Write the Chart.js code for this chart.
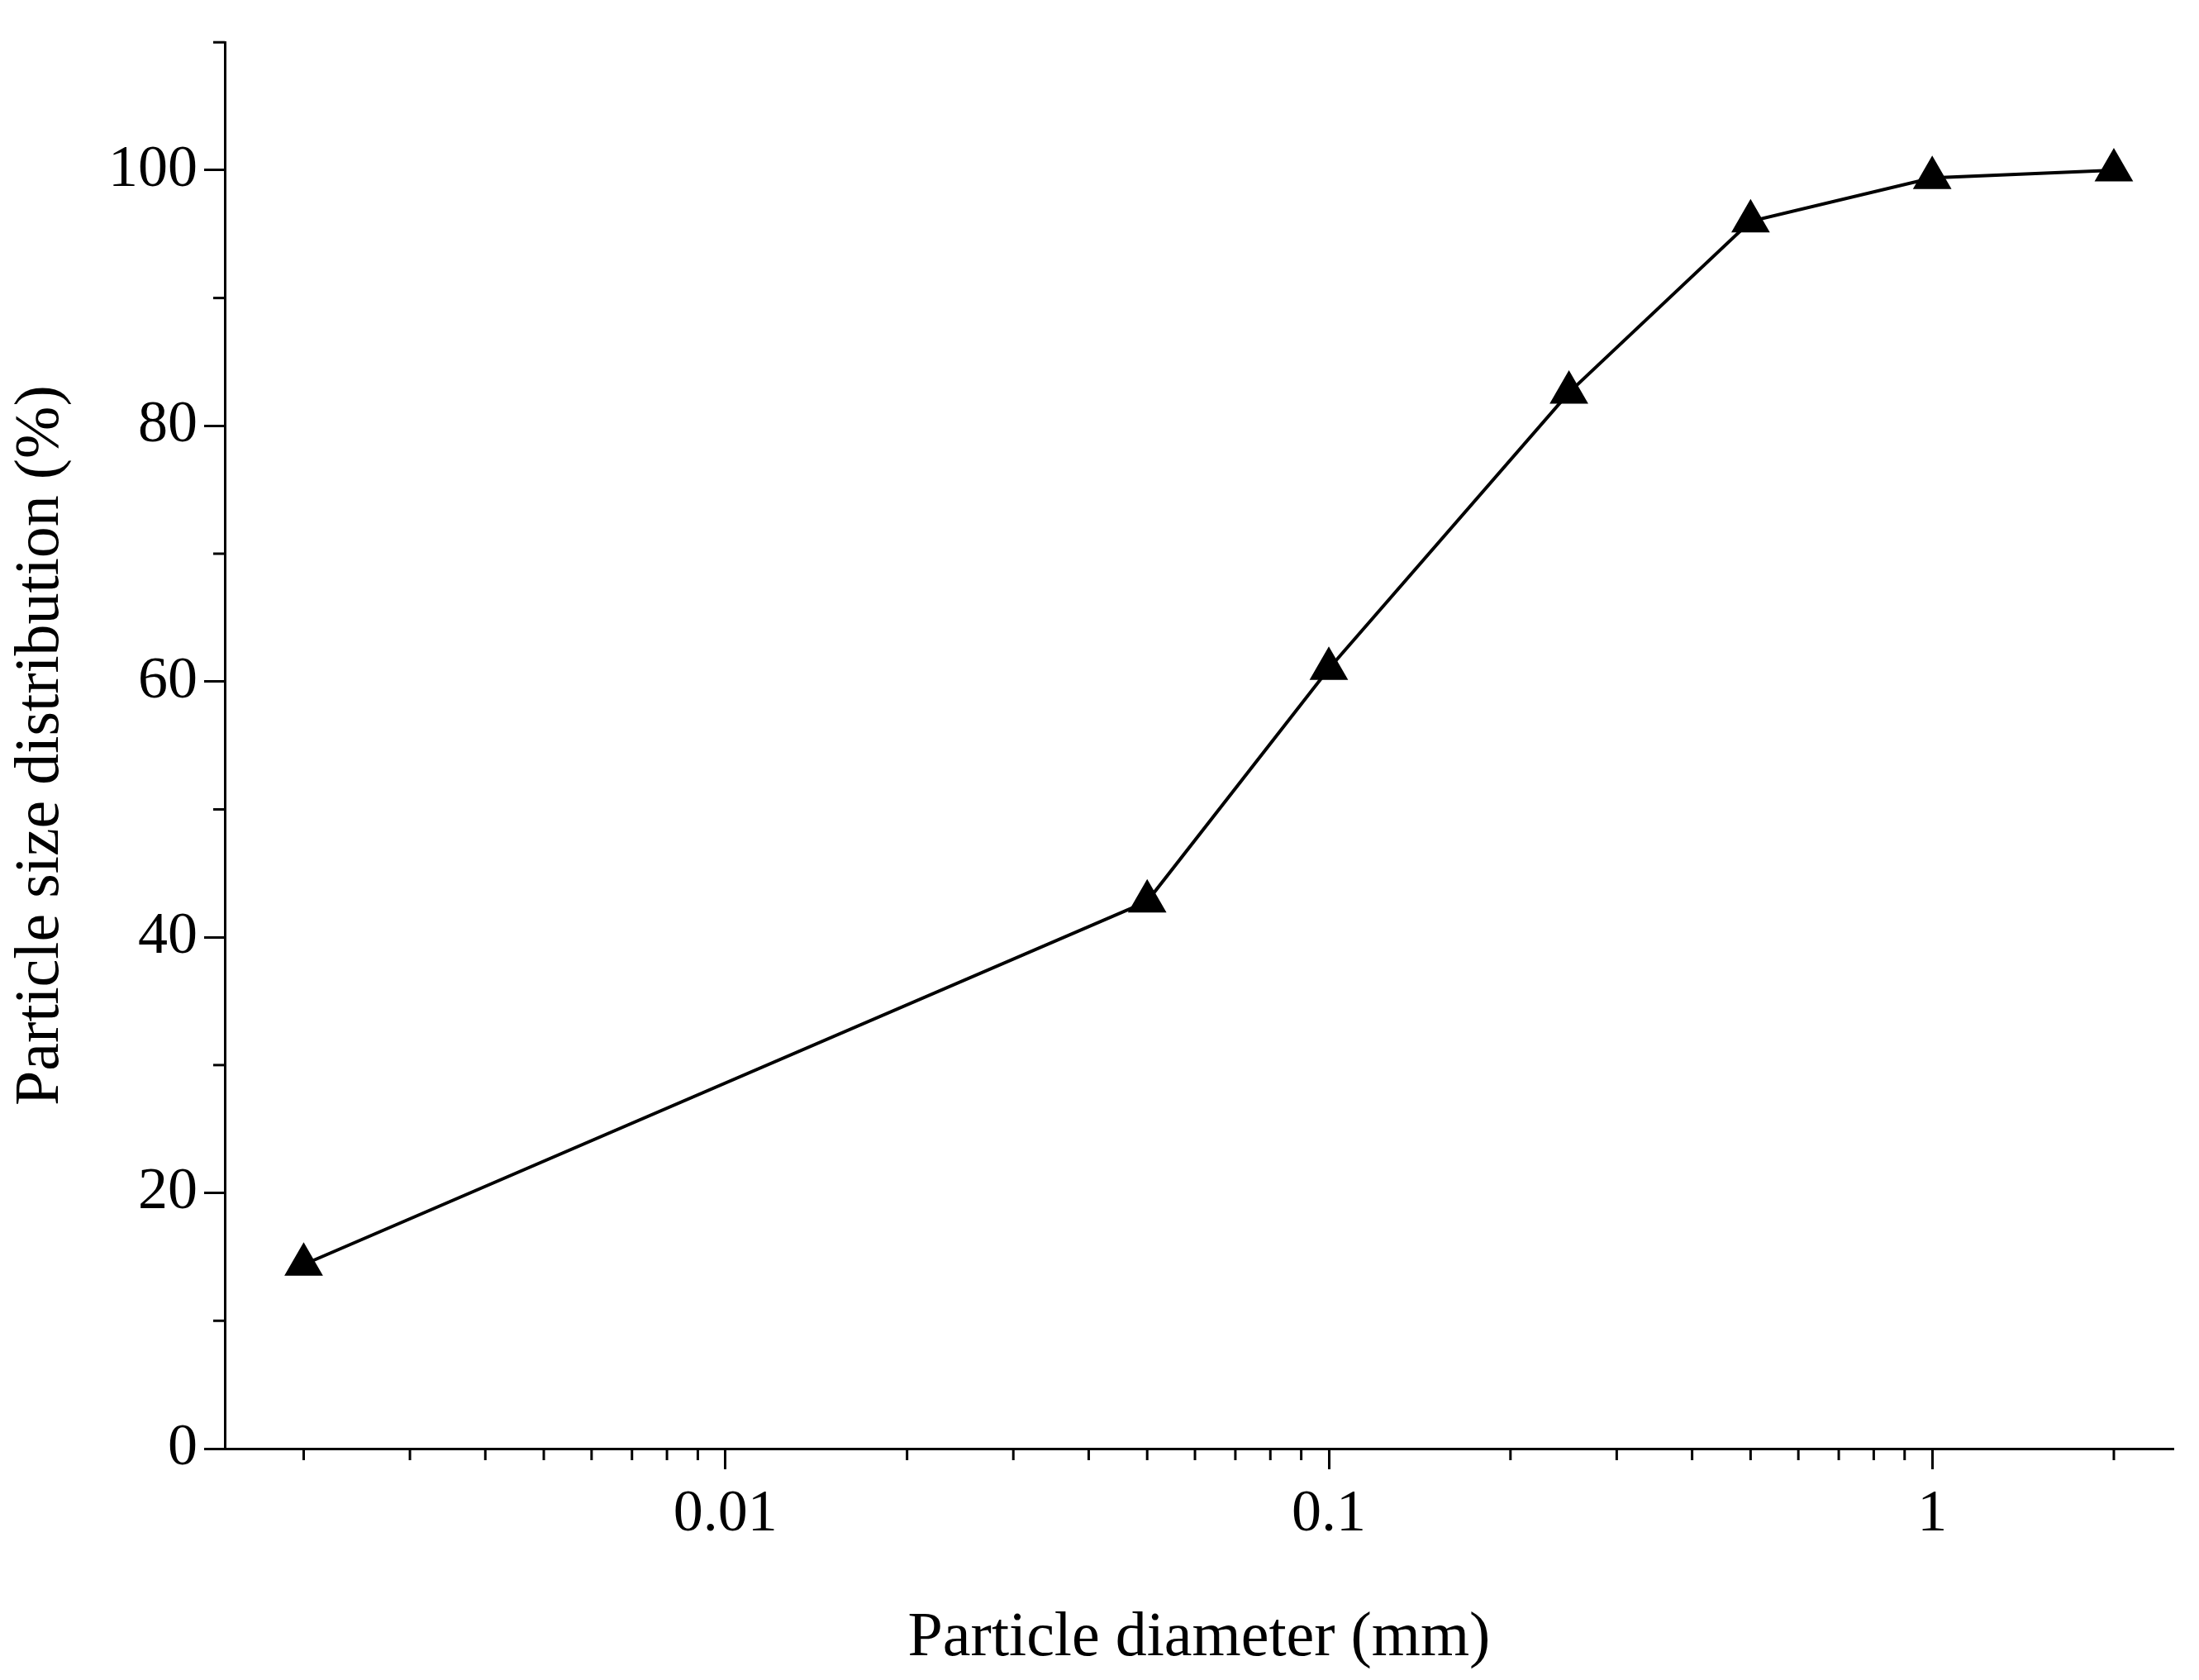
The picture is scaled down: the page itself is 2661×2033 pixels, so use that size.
<!DOCTYPE html>
<html><head><meta charset="utf-8">
<script src="https://cdn.jsdelivr.net/npm/chart.js@4"></script>
<style>html,body{margin:0;padding:0;background:#fff}#w{width:2661px;height:2033px}</style>
</head><body><div id="w"><canvas id="c"></canvas></div>
<script>
const diameters = [0.002, 0.05, 0.1, 0.25, 0.5, 1, 2];
const passing = [14.4, 42.8, 61.0, 82.6, 96.0, 99.4, 100.0];
const xMajorLabels = [0.01, 0.1, 1];
const xTickValues = [0.002,0.003,0.004,0.005,0.006,0.007,0.008,0.009,0.01,0.02,0.03,0.04,0.05,0.06,0.07,0.08,0.09,0.1,0.2,0.3,0.4,0.5,0.6,0.7,0.8,0.9,1,2];
const yMajorLabels = [0,20,40,60,80,100];

const isMajorX = v => xMajorLabels.some(m => Math.abs(v-m)/m < 1e-6);
const isMajorY = v => yMajorLabels.includes(v);
const FONT = 'Liberation Serif';

const minorTicks = {
  id:'minorTicks',
  afterDraw(chart){
    const ctx = chart.ctx; ctx.save(); ctx.strokeStyle='#000'; ctx.lineWidth=3;
    const x = chart.scales.x, y = chart.scales.y;
    x.ticks.forEach(t=>{ if(!isMajorX(t.value)){ const p=x.getPixelForValue(t.value); ctx.beginPath(); ctx.moveTo(p,x.top); ctx.lineTo(p,x.top+14); ctx.stroke(); }});
    y.ticks.forEach(t=>{ if(!isMajorY(t.value)){ const p=y.getPixelForValue(t.value); ctx.beginPath(); ctx.moveTo(y.right,p); ctx.lineTo(y.right-14,p); ctx.stroke(); }});
    ctx.restore();
  }
};

new Chart(document.getElementById('c'), {
  type:'line',
  data:{ datasets:[{ data: diameters.map((d,i)=>({x:d,y:passing[i]})), borderColor:'#000', backgroundColor:'#000', borderWidth:4, pointStyle:'triangle', pointRadius:23, pointHoverRadius:23, tension:0 }]},
  options:{
    responsive:true, maintainAspectRatio:false, animation:false,
    layout:{padding:{top:0,right:31,left:0,bottom:0}},
    plugins:{legend:{display:false},tooltip:{enabled:false}},
    scales:{
      x:{ type:'logarithmic', min:0.00148, max:2.51,
        afterBuildTicks:s=>{ s.ticks = xTickValues.map(v=>({value:v})); },
        afterFit:s=>{ s.height = 280; },
        border:{display:true,color:'#000',width:3},
        grid:{display:true,drawOnChartArea:false,drawTicks:true,tickLength:25,tickColor:'#000',tickWidth:c=>isMajorX(c.tick.value)?3:0},
        ticks:{autoSkip:false,maxRotation:0,padding:12,color:'#000',font:{family:FONT,size:72},callback:v=>isMajorX(v)?String(v):''},
        title:{display:true,text:'Particle diameter (mm)',color:'#000',font:{family:FONT,size:76},padding:{top:30}}
      },
      y:{ min:0, max:110,
        afterBuildTicks:s=>{ const a=[]; for(let v=0;v<=110;v+=10) a.push({value:v}); s.ticks=a; },
        afterFit:s=>{ s.width = 272; },
        border:{display:true,color:'#000',width:3},
        grid:{display:true,drawOnChartArea:false,drawTicks:true,tickLength:25,tickColor:'#000',tickWidth:c=>isMajorY(c.tick.value)?3:0},
        ticks:{autoSkip:false,padding:8,color:'#000',font:{family:FONT,size:72},callback:v=>isMajorY(v)?String(v):''},
        title:{display:true,text:'Particle size distribution (%)',color:'#000',font:{family:FONT,size:76},padding:{bottom:4}}
      }
    }
  },
  plugins:[minorTicks]
});
</script></body></html>
